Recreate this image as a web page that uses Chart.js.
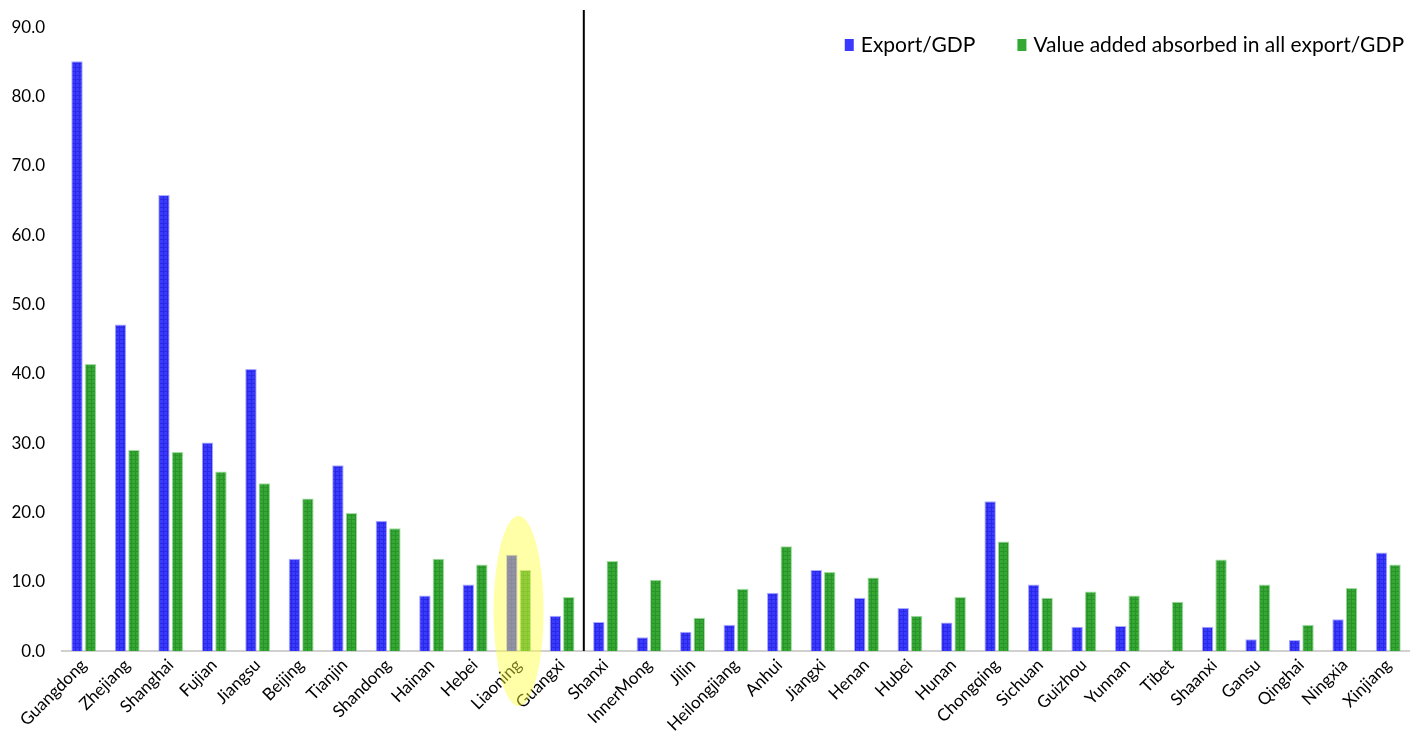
<!DOCTYPE html>
<html>
<head>
<meta charset="utf-8">
<script src="https://cdn.jsdelivr.net/npm/chart.js@4/dist/chart.umd.min.js"></script>
<style>
  html, body { margin: 0; padding: 0; background: #fff; }
  #wrap { width: 1410px; height: 739px; }
</style>
</head>
<body>
<div id="wrap"><canvas id="chart"></canvas></div>
<script>
const provinces = ['Guangdong', 'Zhejiang', 'Shanghai', 'Fujian', 'Jiangsu', 'Beijing', 'Tianjin', 'Shandong',
  'Hainan', 'Hebei', 'Liaoning', 'Guangxi', 'Shanxi', 'InnerMong', 'Jilin', 'Heilongjiang', 'Anhui', 'Jiangxi',
  'Henan', 'Hubei', 'Hunan', 'Chongqing', 'Sichuan', 'Guizhou', 'Yunnan', 'Tibet', 'Shaanxi', 'Gansu',
  'Qinghai', 'Ningxia', 'Xinjiang'];
const exportGdp = [85.1, 47.1, 65.8, 30.1, 40.7, 13.3, 26.8, 18.8, 8.0, 9.6, 13.9, 5.1, 4.2, 2.0, 2.8, 3.8,
  8.4, 11.7, 7.7, 6.2, 4.1, 21.6, 9.6, 3.5, 3.6, 0, 3.5, 1.7, 1.6, 4.6, 14.2];
const valueAddedGdp = [41.4, 29.0, 28.7, 25.9, 24.2, 22.0, 19.9, 17.7, 13.3, 12.5, 11.7, 7.8, 13.0, 10.3, 4.8,
  9.0, 15.1, 11.4, 10.6, 5.1, 7.8, 15.8, 7.7, 8.6, 8.0, 7.1, 13.2, 9.6, 3.8, 9.1, 12.5];
const yTicks = [0, 10, 20, 30, 40, 50, 60, 70, 80, 90];
const splitAfter = 'Guangxi';
const highlight = 'Liaoning';

const font = "Lato, 'Open Sans', sans-serif";
const blue = '#3a3aff', green = '#33a833';

// small grid texture like the original bars
function makePattern(base, line) {
  const c = document.createElement('canvas');
  c.width = 4; c.height = 4;
  const g = c.getContext('2d');
  g.fillStyle = base;
  g.fillRect(0, 0, 4, 4);
  g.fillStyle = line;
  g.fillRect(0, 3, 4, 1);
  g.fillRect(3, 0, 1, 4);
  return g.createPattern(c, 'repeat');
}
const bluePat = makePattern(blue, '#2a2ae6');
const greenPat = makePattern(green, '#2a932a');

const extras = {
  id: 'extras',
  afterDatasetsDraw(chart) {
    const ctx = chart.ctx;
    const x = chart.scales.x, y = chart.scales.y;
    // separator line between groups
    const i = provinces.indexOf(splitAfter);
    const xs = (x.getPixelForValue(i) + x.getPixelForValue(i + 1)) / 2;
    ctx.save();
    ctx.strokeStyle = '#000';
    ctx.lineWidth = 2;
    ctx.beginPath();
    ctx.moveTo(xs, 10);
    ctx.lineTo(xs, y.getPixelForValue(0));
    ctx.stroke();
    ctx.restore();
  },
  afterDraw(chart) {
    const ctx = chart.ctx;
    const x = chart.scales.x, y = chart.scales.y;
    // highlight ellipse
    const cx = x.getPixelForValue(provinces.indexOf(highlight));
    const cy = y.getPixelForValue(0) - 40;
    ctx.save();
    ctx.fillStyle = 'rgba(255, 255, 60, 0.45)';
    ctx.beginPath();
    ctx.ellipse(cx, cy, 25, 95, 0, 0, Math.PI * 2);
    ctx.fill();

    // legend, top right inside the plot
    ctx.font = '21px ' + font;
    ctx.textBaseline = 'middle';
    const items = chart.data.datasets.map((ds, i) => ({ text: ds.label, color: i === 0 ? blue : green }));
    let right = chart.width - 6;
    const ly = 45;
    for (let k = items.length - 1; k >= 0; k--) {
      const w = ctx.measureText(items[k].text).width;
      const tx = right - w;
      ctx.fillStyle = '#000';
      ctx.fillText(items[k].text, tx, ly);
      ctx.fillStyle = items[k].color;
      ctx.fillRect(tx - 16, ly - 6, 9, 12);
      right = tx - 16 - 42;
    }
    ctx.restore();
  }
};

new Chart(document.getElementById('chart'), {
  type: 'bar',
  data: {
    labels: provinces,
    datasets: [{
      label: 'Export/GDP',
      data: exportGdp,
      backgroundColor: bluePat,
      borderColor: 'rgba(150,150,255,0.8)',
      borderWidth: 1,
      categoryPercentage: 0.62,
      barPercentage: 0.85
    }, {
      label: 'Value added absorbed in all export/GDP',
      data: valueAddedGdp,
      backgroundColor: greenPat,
      borderColor: 'rgba(140,210,140,0.8)',
      borderWidth: 1,
      categoryPercentage: 0.62,
      barPercentage: 0.85
    }]
  },
  options: {
    responsive: true,
    maintainAspectRatio: false,
    animation: false,
    layout: { padding: { top: 21, right: 0, left: 12, bottom: 0 } },
    plugins: {
      legend: { display: false },
      tooltip: { enabled: false }
    },
    scales: {
      x: {
        afterFit(scale) { scale.paddingLeft = 0; scale.paddingRight = 0; },
        grid: { display: false, drawTicks: false },
        border: { color: '#d0d0d0', width: 2 },
        ticks: {
          color: '#000',
          minRotation: 45,
          maxRotation: 45,
          autoSkip: false,
          padding: 4,
          font: { family: font, size: 17 }
        }
      },
      y: {
        min: 0,
        max: 90,
        afterFit(scale) { scale.width = 50; },
        afterBuildTicks(axis) { axis.ticks = yTicks.map(v => ({ value: v })); },
        grid: { display: false, drawTicks: false },
        border: { display: false },
        ticks: {
          color: '#000',
          padding: 17,
          font: { family: font, size: 17 },
          callback: v => v.toFixed(1)
        }
      }
    }
  },
  plugins: [extras]
});
</script>
</body>
</html>
